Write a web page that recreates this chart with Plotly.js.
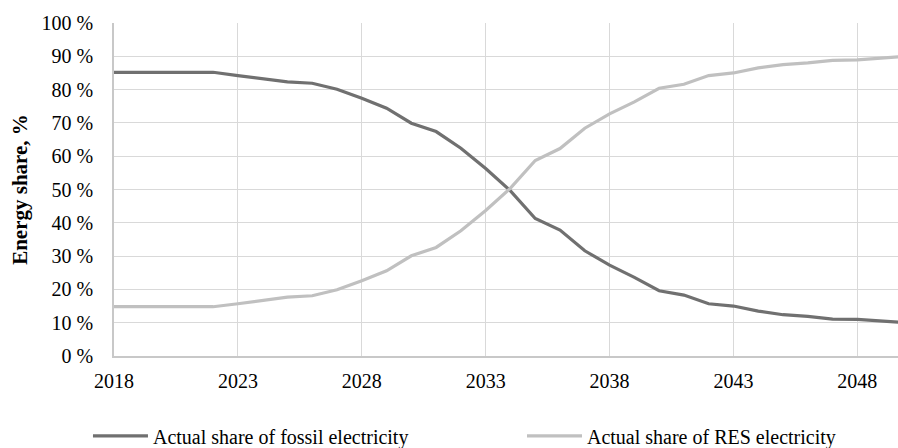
<!DOCTYPE html>
<html>
<head>
<meta charset="utf-8">
<script src="https://cdn.plot.ly/plotly-3.0.1.min.js"></script>
<style>html,body{margin:0;padding:0;background:#fff;}#chart{width:898px;height:448px;}</style>
</head>
<body>
<div id="chart"></div>
<script>
const years = [2018,2019,2020,2021,2022,2023,2024,2025,2026,2027,2028,2029,2030,2031,2032,2033,2034,2035,2036,2037,2038,2039,2040,2041,2042,2043,2044,2045,2046,2047,2048,2049,2050];
const fossilShare = [85.2,85.2,85.2,85.2,85.2,84.2,83.3,82.3,81.9,80.1,77.4,74.4,69.9,67.4,62.4,56.3,49.6,41.3,37.8,31.6,27.3,23.6,19.6,18.3,15.7,15.0,13.5,12.4,11.9,11.1,11.0,10.6,10.0];
const resShare = [14.8,14.8,14.8,14.8,14.8,15.7,16.7,17.7,18.1,19.9,22.6,25.6,30.1,32.6,37.6,43.7,50.4,58.7,62.3,68.4,72.7,76.3,80.4,81.6,84.2,85.0,86.5,87.5,88.0,88.8,88.9,89.4,90.0];
const xTickVals = [2018,2023,2028,2033,2038,2043,2048];
const xTickText = ['2018','2023','2028','2033','2038','2043','2048'];
const yTickVals = [0,10,20,30,40,50,60,70,80,90,100];
const yTickText = ['0 %','10 %','20 %','30 %','40 %','50 %','60 %','70 %','80 %','90 %','100 %'];
const seriesNames = ['Actual share of fossil electricity','Actual share of RES electricity'];

const FAM = 'Liberation Serif';
function mkFont(sz) { return {family: FAM, size: sz || 20, color: '#000'}; }

const traces = [
  {x: years, y: fossilShare, name: seriesNames[0], type: 'scatter', mode: 'lines',
   line: {color: '#707070', width: 3.2}, legend: 'legend', hoverinfo: 'skip'},
  {x: years, y: resShare, name: seriesNames[1], type: 'scatter', mode: 'lines',
   line: {color: '#c0c0c0', width: 3.2}, legend: 'legend2', hoverinfo: 'skip'}
];

function mkLegend(x) {
  return {orientation: 'h', x: x, xanchor: 'left', y: -0.240, yanchor: 'middle',
          font: mkFont(20), itemwidth: 55, bgcolor: 'rgba(0,0,0,0)', borderwidth: 0};
}

const layout = {
  width: 898, height: 448,
  margin: {l: 114, r: 0, t: 23, b: 92, pad: 0, autoexpand: false},
  paper_bgcolor: '#fff', plot_bgcolor: '#fff',
  font: mkFont(20),
  showlegend: true,
  legend: mkLegend(-0.0332),
  legend2: mkLegend(0.5204),
  xaxis: {
    range: [2018, 2049.64], tickmode: 'array', tickvals: xTickVals, ticktext: xTickText,
    showgrid: true, gridcolor: '#d9d9d9', gridwidth: 1,
    showline: true, linecolor: '#c8c8c8', linewidth: 1.5,
    zeroline: false, ticks: '', ticklabelstandoff: 6,
    tickfont: mkFont(20), fixedrange: true
  },
  yaxis: {
    range: [0, 100], tickmode: 'array', tickvals: yTickVals, ticktext: yTickText,
    showgrid: true, gridcolor: '#d9d9d9', gridwidth: 1,
    showline: true, linecolor: '#c8c8c8', linewidth: 1.5,
    zeroline: false, ticks: '', ticklabelstandoff: 15,
    tickfont: mkFont(20), fixedrange: true,
    title: {text: '<b>Energy share, %</b>', font: mkFont(21), standoff: 8}
  }
};

Plotly.newPlot('chart', traces, layout, {displayModeBar: false});
</script>
</body>
</html>
